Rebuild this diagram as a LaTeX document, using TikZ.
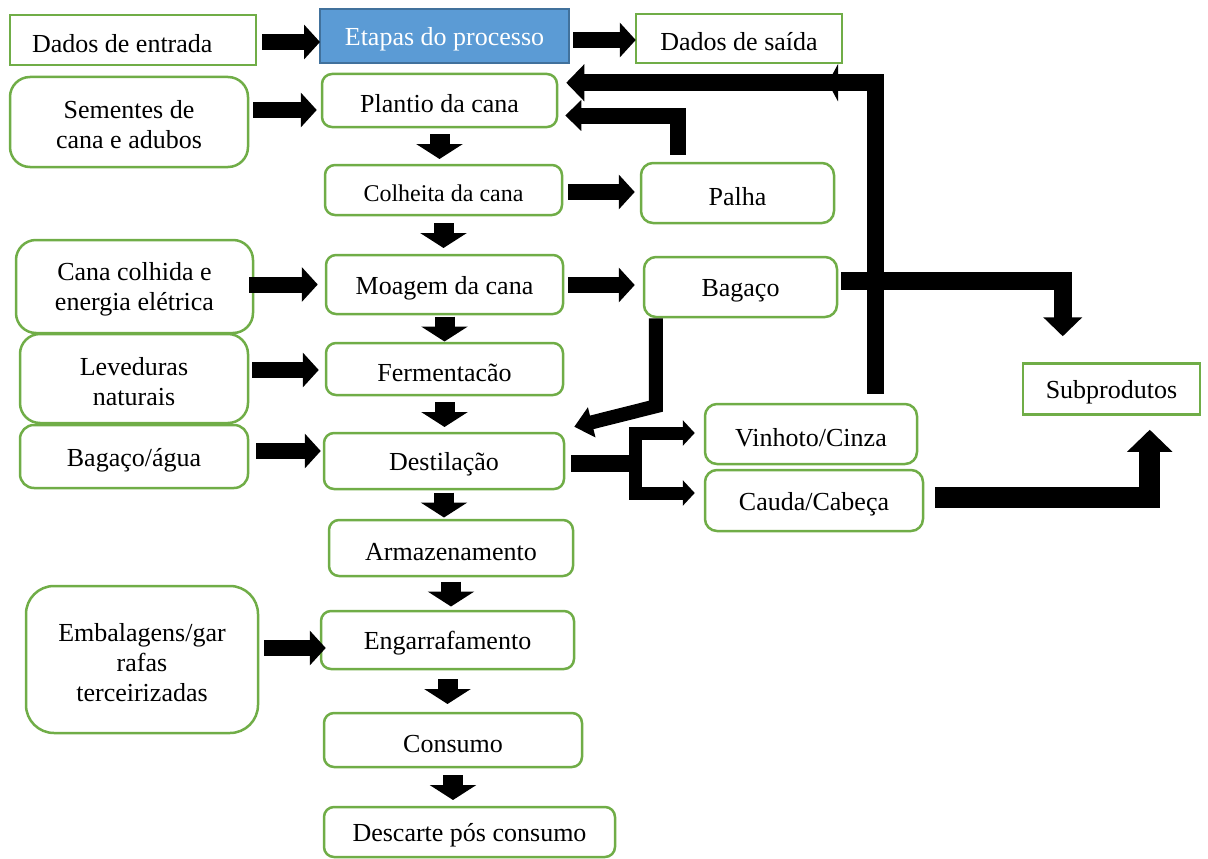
\documentclass[tikz,border=0pt]{standalone}
\usepackage{fontspec}
\setmainfont{Liberation Serif}
\usetikzlibrary{arrows.meta,calc}

\definecolor{boxgreen}{HTML}{70AD47}
\definecolor{stepblue}{HTML}{5B9BD5}
\definecolor{stepedge}{HTML}{41719C}

\tikzset{
  box/.style={draw=boxgreen, line width=2.5pt, fill=white, rounded corners=10pt,
    inner sep=0pt, align=center, text height=24.8pt, font=\fontsize{26}{30}\selectfont},
  sqbox/.style={box, sharp corners},
  bigbox/.style={box, rounded corners=20pt, text height=53.8pt},
  flow/.style={line width=16pt, -{Triangle[length=16pt,width=34pt]}},
  downflow/.style={line width=20pt, -{Triangle[length=15pt,width=46pt]}},
  backflow/.style={line width=17pt, -{Triangle[length=18pt,width=36pt]}},
}

\begin{document}
\begin{tikzpicture}[x=1pt,y=-1pt]
\useasboundingbox (0,0) rectangle (1208,859);

% cabecalho
\node[sqbox, minimum width=246pt, minimum height=50pt] (din) at (133,40)
  {\makebox[202pt][l]{Dados de entrada}};
\node[sqbox, fill=stepblue, draw=stepedge, line width=2pt, text=white,
  minimum width=249pt, minimum height=54pt] (etp) at (444.5,36) {Etapas do processo};
\node[sqbox, minimum width=206pt, minimum height=49pt] (dout) at (739,38.5) {Dados de saída};

% entradas
\node[bigbox, minimum width=238pt, minimum height=90pt] (sem) at (129,122) {Sementes de\\cana e adubos};
\node[bigbox, minimum width=237pt, minimum height=93pt] (ccol) at (134.5,286.5) {Cana colhida e\\energia elétrica};
\node[bigbox, minimum width=228pt, minimum height=89pt] (lev) at (134,378.5) {Leveduras\\naturais};
\node[bigbox, rounded corners=14pt, text height=24.8pt, minimum width=228pt, minimum height=63pt] (bagu) at (134,456.5) {Bagaço/água};
\node[bigbox, rounded corners=28pt, text height=84pt, minimum width=232pt, minimum height=147pt] (emb) at (142,659.5) {Embalagens/gar\\rafas\\terceirizadas};

% etapas
\node[box, minimum width=235pt, minimum height=53pt] (plan) at (439.5,100.5) {Plantio da cana};
\node[box, minimum width=237pt, minimum height=50pt, text height=23.4pt,
  font=\fontsize{24}{28}\selectfont] (colh) at (443.5,190) {Colheita da cana};
\node[box, minimum width=237pt, minimum height=59pt] (moag) at (444.5,284.5) {Moagem da cana};
\node[box, minimum width=237pt, minimum height=52pt] (ferm) at (444.5,369) {Fermentacão};
\node[box, minimum width=240pt, minimum height=56pt] (dest) at (444,461) {Destilação};
\node[box, minimum width=244pt, minimum height=56pt] (arm) at (451,548) {Armazenamento};
\node[box, minimum width=253pt, minimum height=58pt] (eng) at (447.5,640) {Engarrafamento};
\node[box, minimum width=258pt, minimum height=54pt] (cons) at (453,740) {Consumo};
\node[box, minimum width=291pt, minimum height=50pt] (desc) at (469.5,832) {Descarte pós consumo};

% saidas
\node[box, rounded corners=12pt, minimum width=193pt, minimum height=60pt] (pal) at (737.5,193) {Palha};
\node[box, rounded corners=12pt, minimum width=193pt, minimum height=60pt] (bag) at (740.5,287) {Bagaço};
\node[box, rounded corners=12pt, minimum width=212pt, minimum height=60pt] (vin) at (811,434) {Vinhoto/Cinza};
\node[box, rounded corners=12pt, minimum width=218pt, minimum height=61pt] (cau) at (814,500.5) {Cauda/Cabeça};
\node[sqbox, minimum width=177pt, minimum height=51pt] (sub) at (1111.5,389) {Subprodutos};

% setas horizontais
\draw[flow] ($(din.east)+(5,2)$) -- ($(etp.west)+(1,6)$);
\draw[flow] ($(etp.east)+(3,4)$) -- ($(dout.west)+(1,1.5)$);
\draw[flow] ($(sem.east)+(4,-12)$) -- ($(plan.west)+(-4,9.5)$);
\draw[flow] ($(ccol.east)+(-5,-2)$) -- ($(moag.west)+(-7,0)$);
\draw[flow] ($(lev.east)+(3,-8.5)$) -- ($(ferm.west)+(-6,1)$);
\draw[flow] ($(bagu.east)+(7,-5.5)$) -- ($(dest.west)+(-2,-10)$);
\draw[flow] ($(emb.east)+(5,-11.5)$) -- ($(eng.west)+(6,8)$);
\draw[flow] ($(colh.east)+(5,2)$) -- ($(pal.west)+(-5,-1)$);
\draw[flow] ($(moag.east)+(4,0.5)$) -- ($(bag.west)+(-8,-2)$);

% setas entre etapas
\foreach \a/\b in {plan/colh, colh/moag, moag/ferm, ferm/dest, dest/arm, arm/eng, eng/cons, cons/desc}
  \draw[downflow] ($(\a.south)!.5!(\a.south |- \b.north)+(0,-12)$)
    -- ($(\a.south)!.5!(\a.south |- \b.north)+(0,13)$);

% retornos
\coordinate (vturn) at ($(vin.north)+(64,-320)$);
\draw[backflow] ($(vin.north)+(64,-9)$) -- (vturn) -- ($(plan.north east)+(8,10)$);
\draw[line width=17pt, -{Triangle[length=10pt,width=37pt]}] (vturn) -- ($(vturn)+(-47,0)$);
\draw[line width=16pt, -{Triangle[length=16pt,width=30pt]}]
  ($(pal.north west)+(38,-7)$) |- ($(plan.east)+(7,15)$);
\draw[line width=14pt, -{Triangle[length=18pt,width=30pt]}]
  ($(bag.south west)+(13,0)$) -- ($(bag.south west)+(13,88)$) -- ($(dest.north east)+(9,-5)$);
\draw[line width=18pt, -{Triangle[length=19pt,width=38pt]}]
  ($(bag.east)+(3,-6)$) -| ($(sub.north west)+(41,-26)$);

% destilacao
\coordinate (split) at ($(dest.east)+(70,2)$);
\draw[line width=17pt] ($(dest.east)+(6,2)$) -- (split);
\draw[line width=13pt, -{Triangle[length=12pt,width=25pt]}] (split) |- ($(vin.west)+(-9,-1)$);
\draw[line width=13pt, -{Triangle[length=12pt,width=25pt]}] (split) |- ($(cau.west)+(-9,-7.5)$);
\draw[line width=21pt, -{Triangle[length=22pt,width=44pt]}]
  ($(cau.east)+(11,-3)$) -| ($(sub.south west)+(128,14)$);
\end{tikzpicture}
\end{document}
